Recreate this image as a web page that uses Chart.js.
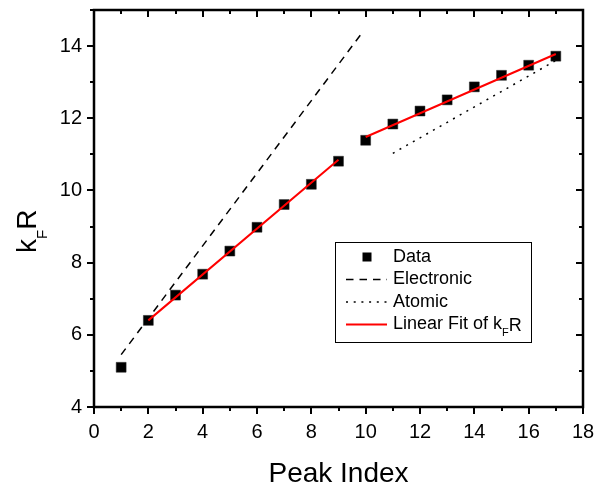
<!DOCTYPE html>
<html>
<head>
<meta charset="utf-8">
<script src="https://cdn.jsdelivr.net/npm/chart.js@4.4.1/dist/chart.umd.min.js"></script>
<style>
html,body{margin:0;padding:0;background:#fff;}
#c{display:block;}
</style>
</head>
<body>
<canvas id="c" width="596" height="487"></canvas>
<script>
// ---- data ----
const peakIndex = [1,2,3,4,5,6,7,8,9,10,11,12,13,14,15,16,17];
const kFR = [5.10,6.40,7.10,7.68,8.32,8.98,9.61,10.17,10.81,11.39,11.84,12.20,12.51,12.87,13.19,13.47,13.72];
const electronicX = [1, 9.85];
const electronicY = [5.45, 14.35];
const atomicX = [11, 17];
const atomicY = [11.03, 13.6];
const fitX = [2, 9, null, 10, 17];
const fitY = [6.40, 10.85, null, 11.48, 13.78];
const xTicks = [0,1,2,3,4,5,6,7,8,9,10,11,12,13,14,15,16,17,18];
const yTicks = [4,5,6,7,8,9,10,11,12,13,14,15];
const legendLabels = ["Data", "Electronic", "Atomic", "Linear Fit of k"];

const FONT = "'Liberation Sans', Arial, sans-serif";
const pts = (xs, ys) => xs.map((x, i) => (x === null ? {x: NaN, y: null} : {x: x, y: ys[i]}));

const framePlugin = {
  id: 'frame',
  afterDraw(chart) {
    const ctx = chart.ctx;
    const a = chart.chartArea;
    const xs = chart.scales.x, ys = chart.scales.y;
    ctx.save();
    // ticks
    ctx.strokeStyle = '#000';
    ctx.lineWidth = 2;
    ctx.lineCap = 'butt';
    xTicks.forEach(v => {
      const px = Math.round(xs.getPixelForValue(v));
      const len = v % 2 === 0 ? 7 : 4;
      ctx.beginPath();
      ctx.moveTo(px, a.bottom); ctx.lineTo(px, a.bottom + len);
      ctx.moveTo(px, a.top); ctx.lineTo(px, a.top + len);
      ctx.stroke();
    });
    yTicks.forEach(v => {
      const py = Math.round(ys.getPixelForValue(v));
      const len = v % 2 === 0 ? 7 : 4;
      ctx.beginPath();
      ctx.moveTo(a.left, py); ctx.lineTo(a.left - len, py);
      ctx.moveTo(a.right, py); ctx.lineTo(a.right - len, py);
      ctx.stroke();
    });
    // frame
    ctx.lineWidth = 2.5;
    ctx.strokeRect(a.left, a.top, a.right - a.left, a.bottom - a.top);

    // x title
    ctx.fillStyle = '#000';
    ctx.font = '28px ' + FONT;
    ctx.textAlign = 'center';
    ctx.textBaseline = 'alphabetic';
    ctx.fillText('Peak Index', (a.left + a.right) / 2, 482);

    // y title k_F R rotated
    ctx.save();
    ctx.translate(36, 253);
    ctx.rotate(-Math.PI / 2);
    ctx.textAlign = 'left';
    ctx.font = '28px ' + FONT;
    ctx.fillText('k', 0, 0);
    let w = ctx.measureText('k').width;
    ctx.font = '15px ' + FONT;
    ctx.fillText('F', w, 11);
    w += ctx.measureText('F').width;
    ctx.font = '28px ' + FONT;
    ctx.fillText('R', w, 0);
    ctx.restore();

    // legend
    const L = 335.5, T = 242.5, W = 196, H = 100;
    ctx.fillStyle = '#fff';
    ctx.fillRect(L, T, W, H);
    ctx.lineWidth = 1;
    ctx.strokeStyle = '#000';
    ctx.strokeRect(L, T, W, H);
    const rows = [257, 279.5, 302, 324.5];
    const sx0 = 346, sx1 = 387, tx = 393;
    ctx.fillStyle = '#000';
    ctx.fillRect(367 - 4.5, rows[0] - 4.5, 9, 9);
    ctx.lineWidth = 1.5;
    ctx.setLineDash([7.5, 6]);
    ctx.beginPath(); ctx.moveTo(sx0, rows[1]); ctx.lineTo(sx1, rows[1]); ctx.stroke();
    ctx.setLineDash([2, 5.7]);
    ctx.beginPath(); ctx.moveTo(sx0, rows[2]); ctx.lineTo(sx1, rows[2]); ctx.stroke();
    ctx.setLineDash([]);
    ctx.strokeStyle = '#ff0000';
    ctx.lineWidth = 2;
    ctx.beginPath(); ctx.moveTo(sx0, rows[3]); ctx.lineTo(sx1, rows[3]); ctx.stroke();
    ctx.fillStyle = '#000';
    ctx.font = '18px ' + FONT;
    ctx.textAlign = 'left';
    ctx.textBaseline = 'middle';
    for (let i = 0; i < 4; i++) ctx.fillText(legendLabels[i], tx, rows[i]);
    ctx.textBaseline = 'alphabetic';
    const base = rows[3] + 6.5;
    let lw = ctx.measureText(legendLabels[3]).width;
    ctx.font = '11px ' + FONT;
    ctx.fillText('F', tx + lw, base + 5);
    lw += ctx.measureText('F').width;
    ctx.font = '18px ' + FONT;
    ctx.fillText('R', tx + lw, base);
    ctx.restore();
  }
};

new Chart(document.getElementById('c'), {
  type: 'scatter',
  data: {
    datasets: [
      { label: 'Linear Fit', data: pts(fitX, fitY), showLine: true, spanGaps: false,
        borderColor: '#ff0000', borderWidth: 2, pointRadius: 0, fill: false, order: 0 },
      { label: 'Data', data: pts(peakIndex, kFR), showLine: false,
        pointStyle: 'rect', pointRadius: 7, backgroundColor: '#000', borderColor: '#222',
        borderWidth: 0.5, order: 1 },
      { label: 'Electronic', data: pts(electronicX, electronicY), showLine: true,
        borderColor: '#000', borderWidth: 1.5, borderDash: [7.5, 6], pointRadius: 0, fill: false, order: 2 },
      { label: 'Atomic', data: pts(atomicX, atomicY), showLine: true,
        borderColor: '#000', borderWidth: 1.5, borderDash: [2, 5.7], pointRadius: 0, fill: false, order: 3 }
    ]
  },
  options: {
    responsive: false,
    animation: false,
    devicePixelRatio: 1,
    layout: { padding: { top: 10, right: 13, left: 0, bottom: 0 } },
    plugins: { legend: { display: false }, tooltip: { enabled: false } },
    scales: {
      x: {
        type: 'linear', min: 0, max: 18,
        grid: { display: false, drawTicks: false },
        border: { display: false },
        ticks: {
          stepSize: 1, autoSkip: false, maxRotation: 0, padding: 13,
          color: '#000', font: { family: FONT, size: 20 },
          callback: v => (v % 2 === 0 ? String(v) : '')
        },
        afterFit: s => { s.height = 80; s.paddingLeft = 0; s.paddingRight = 0; s.paddingTop = 0; s.paddingBottom = 0; }
      },
      y: {
        type: 'linear', min: 4, max: 15,
        grid: { display: false, drawTicks: false },
        border: { display: false },
        ticks: {
          stepSize: 1, autoSkip: false, padding: 12,
          color: '#000', font: { family: FONT, size: 20 },
          callback: v => (v % 2 === 0 ? String(v) : '')
        },
        afterFit: s => { s.width = 94; s.paddingLeft = 0; s.paddingRight = 0; s.paddingTop = 0; s.paddingBottom = 0; }
      }
    }
  },
  plugins: [framePlugin]
});
</script>
</body>
</html>
